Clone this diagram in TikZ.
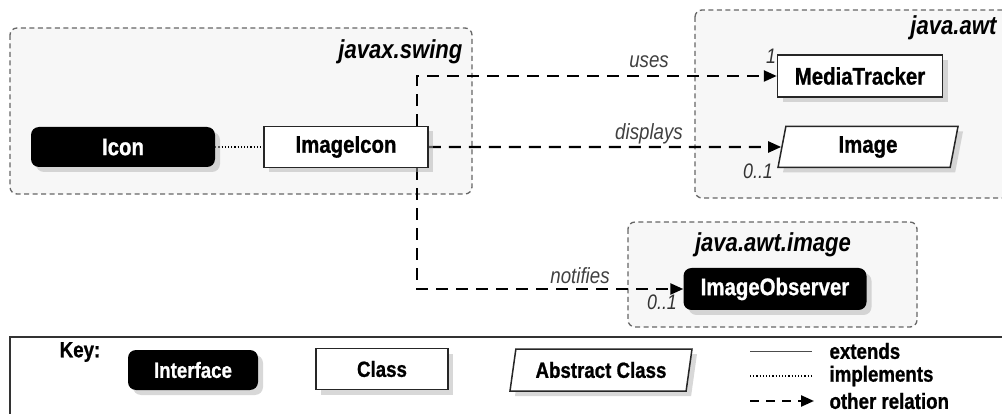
\documentclass[tikz,border=0pt]{standalone}
\usepackage{fontspec}
\setmainfont{Liberation Sans}[FakeStretch=0.85, BoldFeatures={FakeBold=0.9}]
\usetikzlibrary{shapes.geometric,shadows,arrows.meta}
\pgfdeclarelayer{pkglayer}
\pgfdeclarelayer{rellayer}
\pgfsetlayers{pkglayer,rellayer,main}

\tikzset{
  boxfont/.style={font=\fontsize{24}{28}\selectfont\bfseries},
  keyfont/.style={font=\fontsize{22}{26}\selectfont\bfseries},
  boxshadow/.style={drop shadow={shadow xshift=5pt,shadow yshift=-5pt,fill=black!30}},
  iface/.style={rounded corners=8pt, fill=black, text=white, inner sep=0pt, boxshadow},
  cls/.style={draw=black!85, line width=1.5pt, fill=white, inner sep=0pt, boxshadow},
  abscls/.style={trapezium, trapezium left angle=70, trapezium right angle=110,
    trapezium stretches body, draw=black!85, line width=1.5pt, fill=white,
    inner sep=0pt, boxshadow},
  pkg/.style={draw=black!60, line width=1.3pt, dash pattern=on 5pt off 3.5pt,
    fill=black!3, rounded corners=7pt},
  pkgname/.style={font=\fontsize{26}{30}\selectfont\bfseries\itshape},
  rel/.style={line width=2.4pt, dash pattern=on 12pt off 8pt,
    -{Triangle[length=13pt,width=11pt]}},
  impl/.style={line width=1.2pt, dotted},
  ext/.style={line width=1pt, draw=black!70},
  rname/.style={font=\fontsize{22}{26}\selectfont\itshape, text=black!75},
  mult/.style={font=\fontsize{21}{24}\selectfont\itshape, text=black!80},
}

\begin{document}
\begin{tikzpicture}[x=1pt,y=-1pt]
  \clip (0,0) rectangle (1002,414);

  % classes
  \node[iface, boxfont, minimum width=184pt, minimum height=40pt] (Icon) at (123,147) {Icon};
  \node[cls, boxfont, minimum width=164pt, minimum height=41pt] (ImageIcon) at (346,147) {ImageIcon};
  \node[cls, boxfont, minimum width=165pt, minimum height=42pt] (MediaTracker) at (860,76) {MediaTracker};
  \node[abscls, boxfont, minimum width=180pt, minimum height=41pt] (Image) at (868,147) {Image};
  \node[iface, boxfont, minimum width=183pt, minimum height=42pt] (ImageObserver) at (775,289) {ImageObserver};

  % packages
  \node[pkgname, anchor=east] (swingname) at (466,52) {javax.swing};
  \node[pkgname, anchor=east] (awtname) at (1000,28) {java.awt};
  \node[pkgname] (imagename) at (773,245) {java.awt.image};
  \begin{pgfonlayer}{pkglayer}
    \draw[pkg] (10,28) rectangle (472,194);
    \draw[pkg] (695,10) rectangle (1030,198);
    \draw[pkg] (628,222) rectangle (917,327);
  \end{pgfonlayer}

  % relations
  \coordinate (trunk) at (417,77);
  \begin{pgfonlayer}{rellayer}
    \draw[impl] (Icon) -- (ImageIcon);
    \draw[rel] (ImageIcon.north -| trunk) |- (MediaTracker.west);
    \draw[rel] (ImageIcon.east) -- (Image.west);
    \draw[rel] (ImageIcon.south -| trunk) |- (ImageObserver.west);
  \end{pgfonlayer}
  \node[rname] (uses) at (649,62) {uses};
  \node[rname] (displays) at (649,134) {displays};
  \node[rname] (notifies) at (580,276) {notifies};
  \node[mult] (m1) at (771,56) {1};
  \node[mult] (m2) at (758,171) {0..1};
  \node[mult] (m3) at (662,302) {0..1};

  % key
  \draw[line width=1.8pt, draw=black!80] (10,337) rectangle (1030,440);
  \node[keyfont] (key) at (80,352) {Key:};
  \node[iface, keyfont, minimum width=130pt, minimum height=40pt] (keyiface) at (193,370) {Interface};
  \node[cls, keyfont, minimum width=132pt, minimum height=41pt] (keycls) at (382,369) {Class};
  \node[abscls, keyfont, minimum width=182pt, minimum height=42pt] (keyabs) at (601,370) {Abstract Class};
  \node[keyfont, anchor=west] (extname) at (826,351) {extends};
  \node[keyfont, anchor=west] (implname) at (826,376) {implements};
  \node[keyfont, anchor=west] (othername) at (826,401) {other relation};
  \coordinate (legendx) at (750,0);
  \draw[ext] (extname.west -| legendx) -- ++(62,0);
  \draw[impl] (implname.west -| legendx) -- ++(62,0);
  \draw[rel, dash pattern=on 9pt off 7pt] (othername.west -| legendx) -- ++(64,0);
\end{tikzpicture}
\end{document}
